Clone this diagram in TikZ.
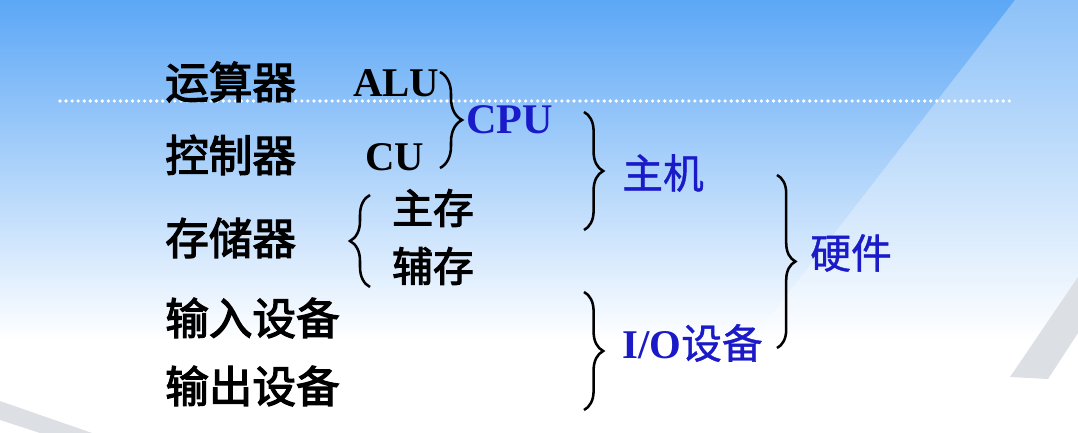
\documentclass[tikz,border=0pt]{standalone}
\usepackage{fontspec}
\setmainfont{Liberation Serif}
\newfontfamily\cjk[FakeBold=1]{Noto Sans CJK SC}
\newfontfamily\cjkheavy[FakeBold=2.8]{Noto Sans CJK SC}
\usepackage{xcolor}
\usepackage{tikz}
\usetikzlibrary{decorations.pathreplacing,positioning}
\definecolor{SlideTop}{HTML}{5CA7F6}
\definecolor{SlideMid}{HTML}{B7D7F9}
\definecolor{HwBlue}{HTML}{1A1AC8}
\definecolor{StripeGray}{HTML}{DCE0E5}
\newcommand{\lat}[1]{{\rmfamily\bfseries #1}}
\tikzset{
  part/.style={font=\cjkheavy\fontsize{31}{34}\selectfont,anchor=west,inner sep=0pt},
  abbr/.style={font=\rmfamily\bfseries\fontsize{29}{32}\selectfont,anchor=west,inner sep=0pt},
  sub/.style={font=\cjkheavy\fontsize{29}{32}\selectfont,anchor=west,inner sep=0pt},
  group/.style={font=\cjk\fontsize{29}{32}\selectfont,text=HwBlue,anchor=west,inner sep=0pt},
  grpbrace/.style={decorate,decoration={brace,amplitude=#1},line width=1.8pt},
  grpbrace/.default=0.5cm
}

\begin{document}
\begin{tikzpicture}[x=0.025cm,y=-0.025cm]
  % slide background
  \useasboundingbox (0,0) rectangle (1078,433);
  \shade[top color=SlideTop,middle color=SlideMid,bottom color=white] (0,0) rectangle (1078,340);
  \fill[white] (0,339) rectangle (1078,433);
  \fill[white,opacity=0.3] (1015,0) -- (680,433) -- (1078,433) -- (1078,0) -- cycle;
  \fill[StripeGray] (1010,377) -- (1048,379) -- (1078,333) -- (1078,277) -- cycle;
  \fill[StripeGray] (0,401) -- (92,433) -- (40,433) -- (0,420) -- cycle;
  \draw[white,line width=2.6pt,line cap=round,dash pattern=on 0pt off 4.3pt] (60,101) -- (1015,101);

  % components
  \node[part] (alu) at (165,82) {运算器};
  \node[part] (cu) at (165,155) {控制器};
  \node[part] (mem) at (165,238) {存储器};
  \node[part] (in) at (165,318) {输入设备};
  \node[part] (out) at (165,386) {输出设备};
  \node[abbr] (aluA) at (353,83) {ALU};
  \node[abbr] (cuA) at (365,157) {CU};
  \node[sub] (main) at (392,208) {主存};
  \node[sub] (aux) at (392,266) {辅存};

  % groups
  \node[group,font=\rmfamily\bfseries\fontsize{30}{32}\selectfont] (cpu) at (466,120) {CPU};
  \node[group] (host) at (622,173) {主机};
  \node[group] (io) at (622,343) {\lat{I/O}设备};
  \node[group] (hw) at (810,253) {硬件};

  % braces
  \coordinate (cpuTop) at (440,72);   \coordinate (cpuBot) at (440,168);
  \coordinate (memTop) at (370,195);  \coordinate (memBot) at (370,287);
  \coordinate (hostTop) at (584,112); \coordinate (hostBot) at (584,230);
  \coordinate (ioTop) at (584,292);   \coordinate (ioBot) at (584,410);
  \coordinate (hwTop) at (777,175);   \coordinate (hwBot) at (777,348);
  \draw[grpbrace=0.55cm] (cpuTop) -- (cpuBot);
  \draw[grpbrace] (memBot) -- (memTop);
  \draw[grpbrace=0.48cm] (hostTop) -- (hostBot);
  \draw[grpbrace=0.48cm] (ioTop) -- (ioBot);
  \draw[grpbrace=0.46cm] (hwTop) -- (hwBot);
\end{tikzpicture}
\end{document}
